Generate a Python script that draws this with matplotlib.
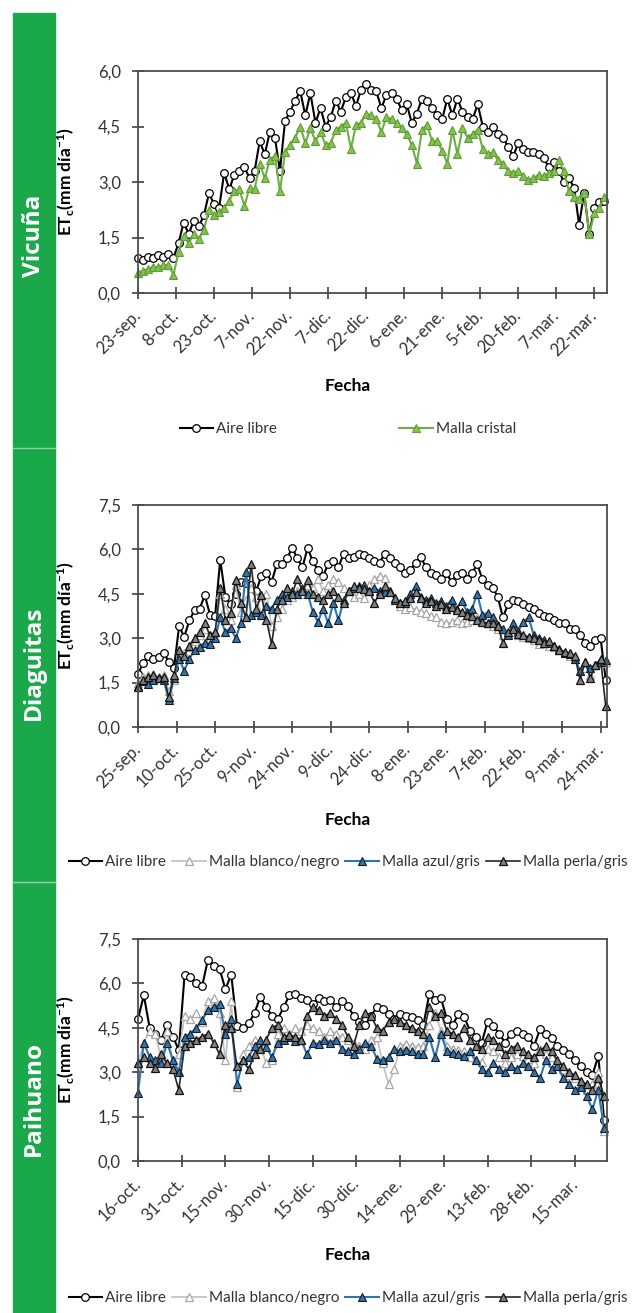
import numpy as np
import matplotlib.pyplot as plt
from matplotlib.patches import Rectangle
from matplotlib.lines import Line2D

plt.rcParams['font.family'] = ['Lato', 'DejaVu Sans']
plt.rcParams['mathtext.fontset'] = 'custom'
plt.rcParams['mathtext.rm'] = 'Lato:bold'
plt.rcParams['mathtext.it'] = 'Lato:bold'
plt.rcParams['mathtext.default'] = 'rm'

# ---- Vicuña (days after 23-sep, every 2 days) ----
vic_days = np.arange(0, 185, 2)
vic_aire = [0.95, 0.88, 0.98, 0.95, 1.02, 0.97, 1.05, 0.95, 1.35, 1.90,
            1.60, 1.95, 1.80, 2.10, 2.70, 2.40, 2.30, 3.25, 2.80, 3.20,
            3.30, 3.40, 3.10, 3.30, 4.10, 3.75, 4.35, 4.20, 3.30, 4.65,
            4.90, 5.20, 5.45, 4.80, 5.40, 4.60, 5.00, 4.50, 4.75, 5.20,
            4.90, 5.30, 5.40, 5.05, 5.50, 5.65, 5.50, 5.45, 5.00, 5.35,
            5.40, 5.25, 4.95, 5.10, 4.60, 4.85, 5.25, 5.20, 5.00, 4.80,
            4.70, 5.25, 4.80, 5.25, 4.90, 4.75, 4.70, 5.10, 4.50, 4.35,
            4.50, 4.30, 4.20, 3.95, 3.70, 4.05, 3.90, 3.80, 3.80, 3.75,
            3.65, 3.40, 3.55, 3.30, 3.00, 3.10, 2.85, 1.85, 2.70, 1.60,
            2.30, 2.45, 2.50]
vic_cristal = [0.55, 0.60, 0.65, 0.70, 0.70, 0.75, 0.75, 0.50, 1.10, 1.55,
               1.35, 1.60, 1.45, 1.70, 2.25, 2.10, 2.20, 2.30, 2.50, 2.75,
               2.80, 2.35, 2.85, 2.80, 3.50, 3.10, 3.60, 3.70, 2.75, 3.80,
               4.00, 4.20, 4.50, 4.05, 4.45, 4.10, 4.35, 4.00, 4.05, 4.40,
               4.50, 4.60, 3.90, 4.55, 4.60, 4.85, 4.80, 4.70, 4.35, 4.75,
               4.70, 4.60, 4.45, 4.30, 4.00, 3.50, 4.40, 4.55, 4.10, 4.10,
               3.85, 3.50, 4.40, 3.75, 4.45, 4.20, 4.30, 4.40, 3.90, 3.75,
               3.80, 3.60, 3.50, 3.30, 3.25, 3.30, 3.15, 3.05, 3.10, 3.20,
               3.15, 3.25, 3.30, 3.60, 3.30, 2.75, 2.60, 2.55, 2.70, 1.60,
               2.15, 2.30, 2.60]
vic_ticks = ['23-sep.', '8-oct.', '23-oct.', '7-nov.', '22-nov.', '7-dic.', '22-dic.',
             '6-ene.', '21-ene.', '5-feb.', '20-feb.', '7-mar.', '22-mar.']

# ---- Diaguitas (days after 25-sep) ----
dia_days = np.arange(0, 183, 2)
dia_aire = [1.80, 2.15, 2.40, 2.30, 2.35, 2.50, 2.20, 2.00, 3.40, 3.05,
            3.60, 3.95, 4.00, 4.45, 3.80, 3.75, 5.65, 4.40, 4.15, 4.50,
            4.90, 4.85, 4.80, 4.60, 5.10, 5.20, 4.90, 5.50, 5.50, 5.70,
            6.05, 5.70, 5.40, 6.05, 5.60, 5.30, 5.10, 5.50, 5.60, 5.40,
            5.85, 5.70, 5.75, 5.85, 5.80, 5.70, 5.60, 5.55, 5.85, 5.70,
            5.55, 5.40, 5.20, 5.30, 5.55, 5.75, 5.40, 5.20, 5.15, 5.00,
            5.20, 4.90, 5.15, 5.20, 5.00, 5.20, 5.50, 5.00, 4.80, 4.70,
            4.40, 3.70, 4.15, 4.30, 4.25, 4.15, 4.05, 4.00, 3.85, 3.75,
            3.70, 3.60, 3.50, 3.50, 3.30, 3.30, 3.10, 2.85, 2.75, 2.95,
            3.00, 1.60]
dia_blanco = [1.50, 1.70, 1.75, 1.80, 1.70, 1.75, 1.20, 1.60, 2.60, 2.50,
              2.70, 2.90, 3.10, 3.30, 3.00, 3.20, 4.50, 4.00, 3.60, 4.80,
              3.90, 4.30, 4.70, 4.40, 3.80, 4.50, 3.40, 3.70, 4.00, 4.30,
              4.40, 4.60, 4.50, 4.80, 4.70, 5.00, 4.60, 4.80, 5.00, 4.90,
              4.70, 4.60, 4.40, 4.50, 4.35, 4.80, 5.00, 5.10, 5.05, 4.60,
              4.30, 4.10, 4.00, 4.05, 3.95, 3.90, 3.85, 3.75, 3.70, 3.55,
              3.50, 3.55, 3.60, 3.50, 3.55, 3.60, 3.70, 3.60, 3.50, 3.40,
              3.30, 3.10, 3.15, 3.20, 3.10, 3.05, 3.00, 2.95, 2.80, 2.85,
              2.75, 2.70, 2.60, 2.50, 2.40, 2.30, 1.90, 2.00, 1.75, 2.10,
              2.15, 2.20]
dia_azul = [1.40, 1.55, 1.45, 1.60, 1.65, 1.60, 0.90, 1.65, 2.30, 1.90,
            2.30, 2.60, 2.70, 2.85, 2.80, 3.00, 3.70, 3.20, 3.35, 3.00,
            3.50, 5.25, 3.80, 3.90, 3.80, 4.10, 4.00, 4.30, 4.50, 4.40,
            4.60, 4.50, 4.70, 4.50, 3.90, 3.55, 4.00, 3.50, 4.20, 3.60,
            4.30, 4.60, 4.70, 4.75, 4.80, 4.60, 4.70, 4.60, 4.55, 4.60,
            4.30, 4.20, 4.20, 4.50, 4.75, 4.40, 4.30, 4.35, 4.20, 4.25,
            4.10, 4.30, 4.00, 4.25, 3.90, 4.00, 4.50, 3.80, 3.85, 3.70,
            3.45, 3.30, 3.10, 3.50, 3.25, 3.55, 3.70, 3.10, 3.00, 2.95,
            2.85, 2.75, 2.65, 2.50, 2.45, 2.30, 1.90, 2.20, 2.00, 2.10,
            2.20, 2.25]
dia_perla = [1.35, 1.60, 1.70, 1.75, 1.65, 1.70, 1.00, 1.75, 2.60, 2.40,
             2.75, 3.00, 3.20, 3.50, 3.10, 3.20, 4.70, 3.60, 3.85, 4.95,
             4.20, 3.70, 5.50, 4.00, 4.45, 3.60, 2.80, 4.00, 4.30, 4.70,
             4.50, 5.00, 4.60, 4.95, 4.50, 4.40, 4.30, 4.50, 4.60, 4.40,
             4.20, 4.60, 4.75, 4.70, 4.65, 4.60, 4.20, 4.50, 4.75, 4.55,
             4.35, 4.20, 4.25, 4.35, 4.55, 4.35, 4.20, 4.25, 4.10, 4.15,
             4.00, 4.05, 3.95, 3.90, 3.80, 3.75, 3.60, 3.55, 3.50, 3.50,
             3.40, 2.85, 3.20, 3.30, 3.15, 3.10, 3.05, 3.00, 2.95, 2.85,
             2.90, 2.75, 2.60, 2.55, 2.50, 2.40, 1.60, 2.20, 1.65, 2.10,
             2.30, 0.70]
dia_ticks = ['25-sep.', '10-oct.', '25-oct.', '9-nov.', '24-nov.', '9-dic.', '24-dic.',
             '8-ene.', '23-ene.', '7-feb.', '22-feb.', '9-mar.', '24-mar.']

# ---- Paihuano (days after 16-oct) ----
pai_days = np.arange(0, 161, 2)
pai_aire = [4.80, 5.60, 4.50, 4.30, 4.10, 4.60, 4.20, 3.75, 6.30, 6.20,
            6.00, 5.90, 6.80, 6.60, 6.50, 5.80, 6.30, 4.55, 4.50, 4.65,
            5.00, 5.55, 5.20, 4.90, 4.80, 5.20, 5.60, 5.65, 5.50, 5.45,
            5.30, 5.50, 5.40, 5.45, 5.20, 5.40, 5.25, 4.90, 4.70, 4.60,
            4.90, 5.20, 5.15, 4.95, 4.80, 4.95, 4.90, 4.85, 4.75, 4.60,
            5.65, 5.45, 5.50, 4.80, 4.60, 4.95, 4.85, 4.40, 4.20, 4.00,
            4.70, 4.55, 4.30, 4.00, 4.30, 4.40, 4.30, 4.20, 3.90, 4.45,
            4.30, 4.15, 3.90, 3.75, 3.60, 3.40, 3.20, 3.00, 2.90, 3.55,
            1.40]
pai_blanco = [3.30, 4.00, 4.40, 4.30, 3.40, 4.40, 3.30, 3.60, 4.90, 4.80,
              5.00, 4.70, 5.40, 5.50, 5.00, 3.40, 5.40, 2.50, 3.60, 3.90,
              4.10, 3.90, 3.30, 3.40, 4.30, 4.50, 4.30, 4.50, 4.40, 4.60,
              4.50, 4.40, 4.20, 4.40, 4.30, 4.20, 4.10, 4.00, 3.90, 3.80,
              4.10, 4.20, 3.30, 2.60, 3.10, 3.90, 3.95, 3.90, 3.85, 3.90,
              4.60, 5.00, 4.40, 3.90, 3.80, 3.75, 3.70, 3.50, 3.40, 3.35,
              3.80, 3.70, 3.50, 3.30, 3.50, 3.60, 3.55, 3.45, 3.30, 3.80,
              3.60, 3.50, 3.30, 3.10, 2.90, 2.80, 2.60, 2.40, 2.60, 3.00,
              1.00]
pai_azul = [2.30, 4.00, 3.50, 3.40, 3.30, 4.00, 3.40, 3.00, 4.20, 4.30,
            4.50, 4.75, 5.10, 5.20, 5.30, 4.30, 4.80, 2.60, 3.40, 3.50,
            3.90, 4.10, 3.85, 3.50, 4.00, 4.10, 4.20, 4.05, 4.10, 3.60,
            4.00, 3.95, 4.10, 4.00, 4.10, 3.80, 3.70, 3.60, 3.80, 4.00,
            3.90, 3.45, 3.40, 3.50, 3.80, 3.70, 3.75, 3.70, 3.60, 3.60,
            4.20, 3.50, 4.30, 3.70, 3.65, 3.60, 3.55, 3.70, 3.40, 3.10,
            3.00, 3.30, 3.10, 3.00, 3.20, 3.10, 3.30, 3.20, 3.00, 2.80,
            3.40, 3.10, 3.20, 2.80, 2.60, 2.40, 2.50, 2.20, 1.75, 2.40,
            1.10]
pai_perla = [3.30, 3.50, 3.30, 3.15, 3.60, 3.30, 3.10, 2.40, 3.90, 4.00,
             4.10, 4.20, 4.30, 4.00, 3.60, 4.60, 4.50, 3.20, 3.40, 3.10,
             3.60, 3.80, 4.10, 4.50, 4.60, 4.20, 4.25, 4.20, 4.10, 4.90,
             5.20, 5.10, 4.90, 5.00, 4.80, 4.60, 4.20, 3.90, 4.60, 5.00,
             4.90, 4.50, 4.40, 4.70, 4.80, 4.70, 4.60, 4.50, 4.40, 4.30,
             5.20, 4.90, 5.00, 4.40, 4.30, 4.20, 4.50, 4.10, 3.90, 3.80,
             4.20, 4.10, 3.90, 3.60, 3.80, 3.90, 3.70, 3.60, 3.50, 3.70,
             3.90, 3.70, 3.40, 3.20, 3.00, 2.90, 2.70, 2.60, 2.40, 2.80,
             2.20]
pai_ticks = ['16-oct.', '31-oct.', '15-nov.', '30-nov.', '15-dic.', '30-dic.',
             '14-ene.', '29-ene.', '13-feb.', '28-feb.', '15-mar.']

# series styles
st_aire = dict(color='black', lw=1.5, marker='o', ms=5.5, mfc='white', mec='black', mew=0.9)
st_cristal = dict(color='#6FAD45', lw=1.5, marker='^', ms=5.5, mfc='#86C152', mec='#5E9E34', mew=0.8)
st_blanco = dict(color='#BFBFBF', lw=1.2, marker='^', ms=5.5, mfc='white', mec='#A6A6A6', mew=0.9)
st_azul = dict(color='#2E75B6', lw=1.5, marker='^', ms=5.5, mfc='#2E75B6', mec='#1A1A1A', mew=0.8)
st_perla = dict(color='#262626', lw=1.2, marker='^', ms=5.5, mfc='#808080', mec='#111111', mew=0.9)

W, H = 635, 1313
fig = plt.figure(figsize=(W / 100, H / 100), dpi=100)

# green side band
green = '#1BA84B'
fig.add_artist(Rectangle((13 / W, 0), 42 / W, (H - 13) / H, transform=fig.transFigure,
                         color=green, zorder=0))
for ysep in [448, 882]:
    fig.add_artist(Line2D([13 / W, 55 / W], [1 - ysep / H] * 2, transform=fig.transFigure,
                          color='#8fd3a4', lw=1))
for name, yc in [('Vicuña', 236), ('Diaguitas', 663), ('Paihuano', 1098)]:
    fig.text(34 / W, 1 - yc / H, name, rotation=90, ha='center', va='center', color='white',
             fontsize=17.5, fontweight='bold', family=['Open Sans', 'DejaVu Sans'])


def draw_panel(top, xmax, ymax, days, series, ticklabels, fecha_y, legend_y, colspace):
    ax = fig.add_axes([138 / W, 1 - (top + 222) / H, 469 / W, 222 / H])
    for vals, label, st in series:
        ax.plot(days, vals, label=label, clip_on=False, **st)
    ax.set_xlim(0, xmax)
    ax.set_ylim(0, ymax)
    yt = np.arange(0, ymax + 0.01, 1.5)
    ax.set_yticks(yt)
    ax.set_yticklabels([f'{v:.1f}'.replace('.', ',') for v in yt])
    ax.set_xticks(np.arange(len(ticklabels)) * 15)
    ax.set_xticklabels(ticklabels, rotation=45, ha='right', va='center', rotation_mode='anchor')
    for sp in ax.spines.values():
        sp.set_color('#4D4D4D')
        sp.set_linewidth(1.3)
    ax.tick_params(axis='both', direction='inout', length=8.5, width=1.3, color='#4D4D4D',
                   labelcolor='#333333', labelsize=12)
    ax.tick_params(axis='y', pad=8)
    ax.tick_params(axis='x', pad=10)
    ax.set_ylabel('ET$_{c}$(mm día$^{-1}$)', fontweight='bold', fontsize=12.5)
    ax.yaxis.set_label_coords(-(138 - 77) / 469, 0.5)
    fig.text(348 / W, 1 - fecha_y / H, 'Fecha', ha='center', va='center',
             fontweight='bold', fontsize=12.5)
    h, l = ax.get_legend_handles_labels()
    fig.legend(h, l, loc='center', bbox_to_anchor=(348 / W, 1 - legend_y / H), ncol=len(h),
               frameon=False, handlelength=2.2, handletextpad=0.2, columnspacing=colspace,
               fontsize=11, labelcolor='#333333', borderpad=0, borderaxespad=0)
    return ax


draw_panel(71, 185, 6.0, vic_days,
           [(vic_aire, 'Aire libre', st_aire), (vic_cristal, 'Malla cristal', st_cristal)],
           vic_ticks, 386, 429, 8.0)

four = lambda a, b, c, d: [(a, 'Aire libre', st_aire), (b, 'Malla blanco/negro', st_blanco),
                           (c, 'Malla azul/gris', st_azul), (d, 'Malla perla/gris', st_perla)]

draw_panel(505, 182.5, 7.5, dia_days, four(dia_aire, dia_blanco, dia_azul, dia_perla),
           dia_ticks, 820, 862, 0.4)
draw_panel(939, 161, 7.5, pai_days, four(pai_aire, pai_blanco, pai_azul, pai_perla),
           pai_ticks, 1255, 1298, 0.4)

fig.savefig('out.png', dpi=100)
